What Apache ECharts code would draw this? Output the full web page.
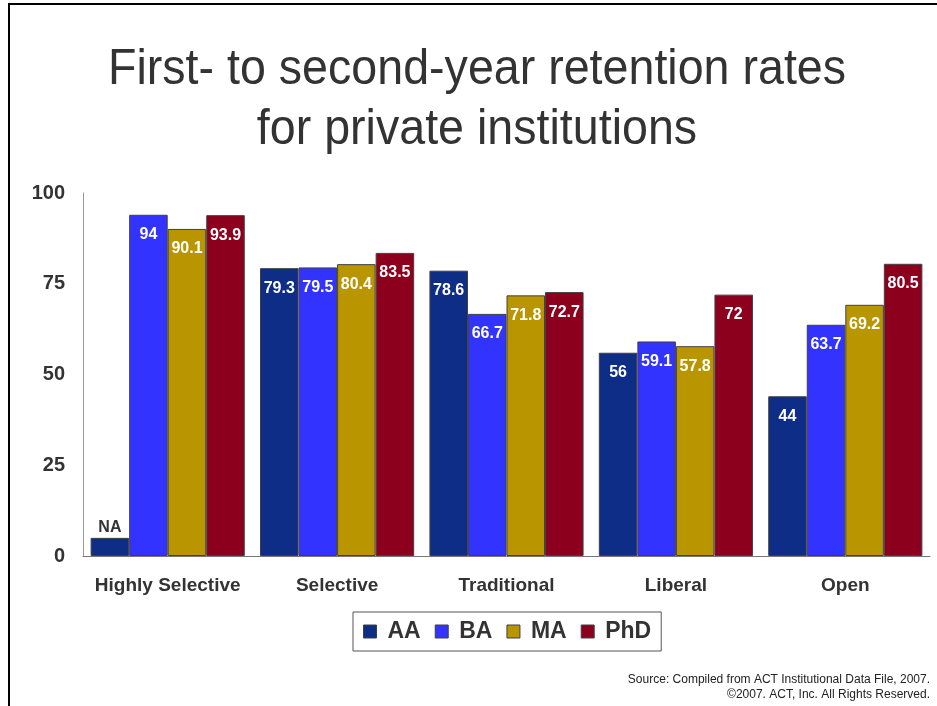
<!DOCTYPE html>
<html><head><meta charset="utf-8">
<script src="https://cdn.jsdelivr.net/npm/echarts/dist/echarts.min.js"></script>
<style>html,body{margin:0;padding:0;background:#fff}#c{width:937px;height:706px}</style>
</head><body><div id="c"></div>
<script>
const categories = ['Highly Selective', 'Selective', 'Traditional', 'Liberal', 'Open'];
const seriesNames = ['AA', 'BA', 'MA', 'PhD'];
const aaValues = [null, 79.3, 78.6, 56, 44];   // null = not available, shown as "NA"
const naStubHeight = 5;                          // height of the small stub drawn for NA
const baValues = [94, 79.5, 66.7, 59.1, 63.7];
const maValues = [90.1, 80.4, 71.8, 57.8, 69.2];
const phdValues = [93.9, 83.5, 72.7, 72, 80.5];
const yTicks = [0, 25, 50, 75, 100];
const titleText = 'First- to second-year retention rates\nfor private institutions';
const sourceLines = ['Source: Compiled from ACT Institutional Data File, 2007.', '\u00A92007. ACT, Inc. All Rights Reserved.'];
const colors = ['#0d2d86', '#3333ff', '#b99600', '#8c001e'];

const FONT = '"Liberation Sans", Arial, sans-serif';
const chart = echarts.init(document.getElementById('c'), null, {renderer: 'canvas'});

function makeData(vals) {
  return vals.map(v => {
    if (v === null) {
      return {value: naStubHeight, label: {show: true, position: 'top', distance: 2, color: '#333', formatter: 'NA'}};
    }
    return v;
  });
}
const allValues = [aaValues, baValues, maValues, phdValues];

const series = seriesNames.map((name, i) => ({
  name: name,
  type: 'bar',
  data: makeData(allValues[i]),
  barGap: '0%',
  barCategoryGap: '9%',
  itemStyle: {color: colors[i], borderColor: '#404040', borderWidth: 1},
  label: {
    show: true, position: 'insideTop', distance: 12,
    color: '#fff', fontFamily: FONT, fontWeight: 'bold', fontSize: 16
  },
  emphasis: {disabled: true},
  animation: false
}));

chart.setOption({
  animation: false,
  color: colors,
  grid: {left: 83, right: 7, top: 193, bottom: 150, containLabel: false},
  xAxis: {
    type: 'category', data: categories,
    axisLine: {lineStyle: {color: '#777', width: 1}},
    axisTick: {show: false},
    axisLabel: {interval: 0, fontFamily: FONT, fontWeight: 'bold', fontSize: 19, color: '#333', margin: 20}
  },
  yAxis: {
    type: 'value', min: yTicks[0], max: yTicks[yTicks.length - 1], interval: 25,
    axisLine: {show: true, lineStyle: {color: '#999'}},
    axisTick: {show: false},
    splitLine: {show: false},
    axisLabel: {fontFamily: FONT, fontWeight: 'bold', fontSize: 20, color: '#333', margin: 18}
  },
  legend: {
    data: seriesNames,
    left: 353, top: 612,
    padding: [8, 10, 8, 10],
    itemGap: 14,
    itemWidth: 13, itemHeight: 13,
    icon: 'rect',
    borderColor: '#555', borderWidth: 1,
    itemStyle: {borderColor: '#404040', borderWidth: 1},
    textStyle: {fontFamily: FONT, fontWeight: 'bold', fontSize: 23, color: '#333', padding: [0, 0, 0, 6]},
    selectedMode: false
  },
  graphic: [
    {type: 'line', shape: {x1: 9, y1: 3, x2: 9, y2: 706}, style: {stroke: '#000', lineWidth: 2}},
    {type: 'line', shape: {x1: 8, y1: 4, x2: 937, y2: 4}, style: {stroke: '#000', lineWidth: 2}},
    {type: 'text', x: 477, y: 100, scaleX: 0.932, scaleY: 1,
     style: {text: titleText, font: '50px ' + FONT, lineHeight: 60, fill: '#333', textAlign: 'center', textVerticalAlign: 'middle'}},
    {type: 'text', right: 7, top: 674, style: {text: sourceLines[0], font: '12px ' + FONT, fill: '#222', textAlign: 'right'}},
    {type: 'text', right: 7, top: 689, style: {text: sourceLines[1], font: '12px ' + FONT, fill: '#222', textAlign: 'right'}}
  ],
  series: series
});
</script>
</body></html>
